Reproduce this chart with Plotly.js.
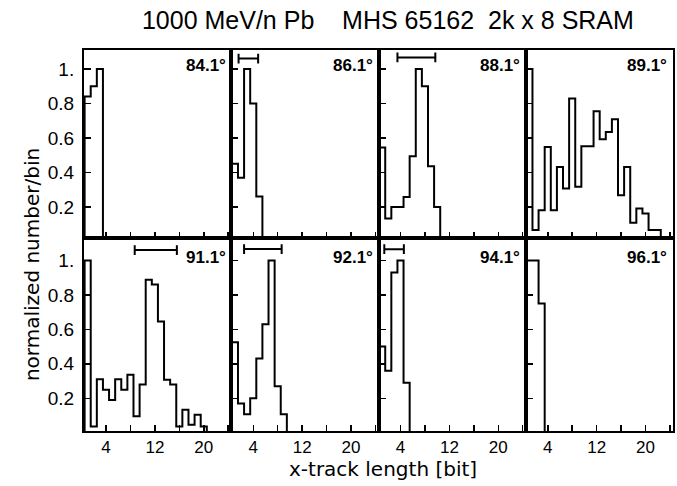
<!DOCTYPE html>
<html>
<head>
<meta charset="utf-8">
<script src="https://cdn.plot.ly/plotly-3.0.1.min.js"></script>
<style>html,body{margin:0;padding:0;background:#fff;}#chart{width:677px;height:486px;}</style>
</head>
<body>
<div id="chart"></div>
<script>
// ---- data ----
const angleLabels = ['84.1°', '86.1°', '88.1°', '89.1°', '91.1°', '92.1°', '94.1°', '96.1°'];
// normalized number per bin, bin k = x-track length k (k = 1, 2, ...)
const counts841 = [0.84, 0.90, 1.00];
const counts861 = [0.45, 0.37, 1.00, 0.80, 0.26];
const counts881 = [0.545, 0.133, 0.20, 0.20, 0.258, 0.494, 1.00, 0.90, 0.436, 0.20];
const counts891 = [1.00, 0.066, 0.181, 0.548, 0.181, 0.432, 0.307, 0.829, 0.317, 0.552, 0.552,
                   0.755, 0.593, 0.635, 0.709, 0.268, 0.432, 0.108, 0.191, 0.162, 0.066, 0.066];
const counts911 = [1.00, 0.036, 0.31, 0.25, 0.19, 0.31, 0.25, 0.336, 0.095, 0.28, 0.887, 0.86,
                   0.645, 0.307, 0.28, 0.036, 0.133, 0.046, 0.104, 0.036];
const counts921 = [0.525, 0.17, 0.107, 0.20, 0.43, 0.63, 1.00, 0.27, 0.107];
const counts941 = [0.50, 0.36, 0.93, 1.00, 0.29];
const counts961 = [1.00, 1.00, 0.75];
const trackLengths = [1, 2, 3, 4, 5, 6, 7, 8, 9, 10, 11, 12, 13, 14, 15, 16, 17, 18, 19, 20, 21, 22];
// horizontal range bars drawn at the top of some panels
const barLo    = [null, 1.6,  3.5,   null, 8.7,  2.5,   1.35,  null];
const barHi    = [null, 4.8,  9.7,   null, 15.6, 8.65,  4.55,  null];
const barLevel = [null, 1.06, 1.067, null, 1.06, 1.066, 1.065, null];
const xTickVals = [4, 8, 12, 16, 20, 24];
const xTickText = ['4', '', '12', '', '20', ''];
const yTickVals = [0.2, 0.4, 0.6, 0.8, 1.0];
const yTickText = ['0.2', '0.4', '0.6', '0.8', '1.'];

const allCounts = [counts841, counts861, counts881, counts891, counts911, counts921, counts941, counts961];

const FONT = 'Liberation Sans, Arial, sans-serif';
const traces = [];
const layout = {
  width: 677, height: 486,
  margin: {l: 84, r: 4, t: 50, b: 55},
  paper_bgcolor: '#fff', plot_bgcolor: '#fff',
  showlegend: false,
  title: {text: '1000 MeV/n Pb\u00a0\u00a0\u00a0\u00a0MHS 65162\u00a0\u00a02k x 8 SRAM',
          font: {family: FONT, size: 25, color: '#000'},
          x: 0.573, xanchor: 'center', xref: 'container', y: 0.958, yanchor: 'middle'},
  annotations: [],
  font: {family: FONT, color: '#000'}
};

const split = 193 / 381;
for (let i = 0; i < 8; i++) {
  const row = i < 4 ? 0 : 1;
  const col = i % 4;
  const n = i + 1;
  const xa = 'x' + (n === 1 ? '' : n);
  const ya = 'y' + (n === 1 ? '' : n);
  const counts = allCounts[i];
  const lens = trackLengths.slice(0, counts.length);
  // step outline: edges at length +- 0.5
  const xs = [lens[0] - 0.5];
  const ys = [0];
  lens.forEach((L, k) => { xs.push(L - 0.5); ys.push(counts[k]); });
  xs.push(lens[lens.length - 1] + 0.5); ys.push(0);
  traces.push({type: 'scatter', mode: 'lines', x: xs, y: ys, xaxis: xa, yaxis: ya,
               line: {shape: 'hv', color: '#000', width: 2}, hoverinfo: 'skip'});
  if (barLo[i] !== null) {
    traces.push({type: 'scatter', mode: 'lines+markers', x: [barLo[i], barHi[i]],
                 y: [barLevel[i], barLevel[i]], xaxis: xa, yaxis: ya,
                 line: {color: '#000', width: 2},
                 marker: {symbol: 'line-ns-open', size: 7, line: {width: 2, color: '#000'}, color: '#000'},
                 hoverinfo: 'skip'});
  }
  layout[(n === 1 ? 'xaxis' : 'xaxis' + n)] = {
    domain: [col / 4, (col + 1) / 4], anchor: ya,
    range: [0.4, 24.5], tickvals: xTickVals, ticktext: xTickText,
    showticklabels: row === 1, ticks: 'inside', ticklen: 6, tickwidth: 1.5, tickcolor: '#000',
    showline: true, linecolor: '#000', linewidth: 2, mirror: true,
    showgrid: false, zeroline: false, fixedrange: true,
    tickfont: {family: FONT, size: 17, color: '#000'}
  };
  layout[(n === 1 ? 'yaxis' : 'yaxis' + n)] = {
    domain: row === 0 ? [split, 1] : [0, split], anchor: xa,
    range: row === 0 ? [0.02, 1.11] : [0.01, 1.13],
    tickvals: yTickVals, ticktext: yTickText,
    showticklabels: col === 0, ticks: 'inside', ticklen: 7, tickwidth: 1.5, tickcolor: '#000',
    showline: true, linecolor: '#000', linewidth: 2, mirror: true,
    showgrid: false, zeroline: false, fixedrange: true, ticklabelstandoff: 4,
    tickfont: {family: FONT, size: 19, color: '#000'}
  };
  layout.annotations.push({
    text: angleLabels[i], xref: xa + ' domain', yref: ya + ' domain',
    x: 0.975, y: row === 0 ? 0.92 : 0.90, xanchor: 'right', yanchor: 'middle', showarrow: false,
    font: {family: FONT, size: 17, color: '#000', weight: 'bold'}
  });
}
layout.annotations.push({
  text: 'normalized number/bin', xref: 'paper', yref: 'paper', x: -0.088, y: 0.436,
  xanchor: 'center', yanchor: 'middle', textangle: -90, showarrow: false,
  font: {family: 'DejaVu Sans, sans-serif', size: 20, color: '#000'}
});
layout.annotations.push({
  text: 'x-track length [bit]', xref: 'paper', yref: 'paper', x: 0.508, y: -0.1,
  xanchor: 'center', yanchor: 'middle', showarrow: false,
  font: {family: 'DejaVu Sans, sans-serif', size: 20, color: '#000'}
});

Plotly.newPlot('chart', traces, layout, {displayModeBar: false, staticPlot: true});
</script>
</body>
</html>
